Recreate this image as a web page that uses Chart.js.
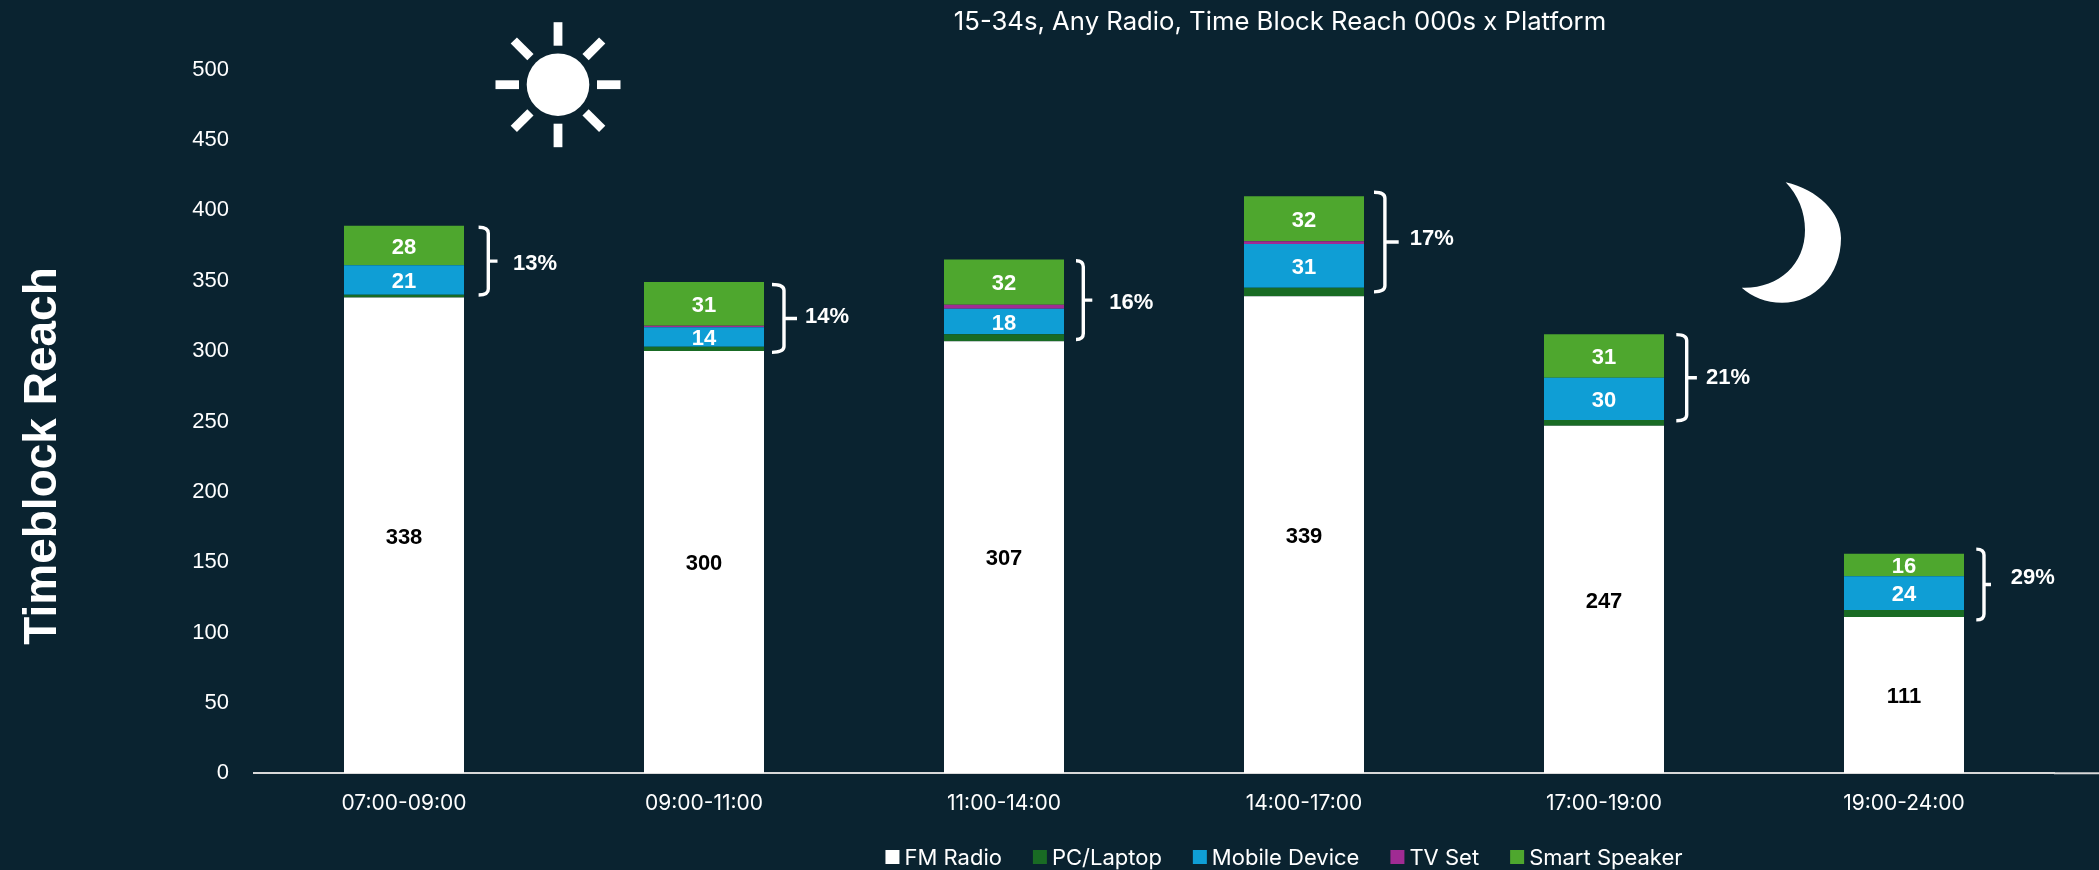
<!DOCTYPE html>
<html>
<head>
<meta charset="utf-8">
<title>Time Block Reach</title>
<script src="https://cdn.jsdelivr.net/npm/chart.js@4/dist/chart.umd.min.js"></script>
<style>
  html, body { margin: 0; padding: 0; background: #0a2330; }
  canvas { display: block; }
</style>
</head>
<body>
<canvas id="reach-chart" width="2099" height="870"></canvas>
<script>
const categories = ['07:00-09:00', '09:00-11:00', '11:00-14:00', '14:00-17:00', '17:00-19:00', '19:00-24:00'];
const fmRadio = [338, 300, 307, 339, 247, 111];
const pcLaptop = [2, 3, 5, 6, 4, 5];
const mobileDevice = [21, 14, 18, 31, 30, 24];
const tvSet = [0, 1, 3, 2, 0, 0];
const smartSpeaker = [28, 31, 32, 32, 31, 16];
const digitalShare = ['13%', '14%', '16%', '17%', '21%', '29%'];
const bracketTop = [388, 347.3, 364.2, 412.9, 311.7, 159.3];
const bracketBottom = [339.8, 299.1, 308.2, 342.1, 250.5, 109];

const textColor = '#ffffff';
const bodyFont = '"Liberation Sans", Arial, sans-serif';
const wideFont = 'Inter, "Liberation Sans", sans-serif';
const labelledSeries = ['FM Radio', 'Mobile Device', 'Smart Speaker'];

const bracketStart = [14.6, 8, 12, 10, 12.3, 12.3];
const bracketSpine = [26, 21.7, 21, 22.6, 24.4, 21.7];
const bracketTip = [33.5, 33, 28.3, 34.7, 32.9, 27];
const shareLeft = [49, 41, 45.3, 45.8, 42, 46.7];
const shareNudge = [3, -1, 3, -3, 0, -7];

const drawSun = (ctx, cx, cy) => {
  ctx.save();
  ctx.fillStyle = textColor;
  ctx.beginPath();
  ctx.arc(cx, cy, 31.3, 0, Math.PI * 2);
  ctx.fill();
  for (let i = 0; i < 8; i++) {
    ctx.save();
    ctx.translate(cx, cy);
    ctx.rotate((i * Math.PI) / 4);
    ctx.fillRect(39, -4.4, 23.5, 8.8);
    ctx.restore();
  }
  ctx.restore();
};

const drawMoon = (ctx) => {
  ctx.save();
  ctx.fillStyle = textColor;
  ctx.beginPath();
  ctx.moveTo(1785.7, 182.3);
  ctx.bezierCurveTo(1818, 190, 1841, 212, 1841, 238);
  ctx.bezierCurveTo(1841, 275, 1815, 302.7, 1782, 302.7);
  ctx.bezierCurveTo(1766, 302.7, 1752, 297, 1741.7, 287.7);
  ctx.bezierCurveTo(1778, 289, 1805, 265, 1805, 230);
  ctx.bezierCurveTo(1805, 212, 1798, 195, 1785.7, 182.3);
  ctx.fill();
  ctx.restore();
};

const drawLegend = (chart) => {
  const ctx = chart.ctx;
  const gap = 31;
  ctx.save();
  ctx.font = `22px ${wideFont}`;
  ctx.textBaseline = 'middle';
  ctx.textAlign = 'left';
  const items = chart.data.datasets.map((ds) => ({
    label: ds.label,
    color: ds.backgroundColor,
    width: 19 + ctx.measureText(ds.label).width,
  }));
  const total = items.reduce((sum, item) => sum + item.width, 0) + gap * (items.length - 1);
  let x = 1284 - total / 2;
  items.forEach((item) => {
    ctx.fillStyle = item.color;
    ctx.fillRect(x, 850, 14, 14);
    ctx.fillStyle = textColor;
    ctx.fillText(item.label, x + 19, 858);
    x += item.width + gap;
  });
  ctx.restore();
};

const overlayPlugin = {
  id: 'overlay',
  afterDatasetsDraw(chart) {
    const ctx = chart.ctx;
    const yScale = chart.scales.y;

    // axis line runs past the last category to the page edge
    ctx.save();
    ctx.strokeStyle = '#d9d9d9';
    ctx.lineWidth = 2;
    ctx.beginPath();
    ctx.moveTo(chart.chartArea.right, chart.chartArea.bottom);
    ctx.lineTo(chart.width, chart.chartArea.bottom);
    ctx.stroke();
    ctx.restore();

    // value labels inside the segments
    ctx.save();
    ctx.font = `bold 22px ${bodyFont}`;
    ctx.textAlign = 'center';
    ctx.textBaseline = 'middle';
    chart.data.datasets.forEach((ds, i) => {
      if (!labelledSeries.includes(ds.label)) return;
      ctx.fillStyle = ds.label === 'FM Radio' ? '#000000' : textColor;
      chart.getDatasetMeta(i).data.forEach((bar, j) => {
        const center = bar.getCenterPoint();
        ctx.fillText(ds.data[j], center.x, center.y + 2);
      });
    });
    ctx.restore();

    // brackets and digital share
    const bars = chart.getDatasetMeta(0).data;
    ctx.save();
    ctx.strokeStyle = textColor;
    ctx.lineWidth = 3.4;
    ctx.fillStyle = textColor;
    ctx.font = `bold 22px ${bodyFont}`;
    ctx.textAlign = 'left';
    ctx.textBaseline = 'middle';
    bars.forEach((bar, i) => {
      const right = bar.x + bar.width / 2;
      const top = yScale.getPixelForValue(bracketTop[i]);
      const bottom = yScale.getPixelForValue(bracketBottom[i]);
      const mid = (top + bottom) / 2;
      const x0 = right + bracketStart[i];
      const spine = right + bracketSpine[i] - 1.7;
      ctx.beginPath();
      ctx.moveTo(x0, top);
      ctx.quadraticCurveTo(spine, top, spine, top + 6);
      ctx.lineTo(spine, bottom - 6);
      ctx.quadraticCurveTo(spine, bottom, x0, bottom);
      ctx.moveTo(spine, mid);
      ctx.lineTo(right + bracketTip[i], mid);
      ctx.stroke();
      ctx.fillText(digitalShare[i], right + shareLeft[i], mid + shareNudge[i]);
    });
    ctx.restore();

    drawSun(ctx, 558, 84.7);
    drawMoon(ctx);

    // title and axis title sit off-centre in the original
    ctx.save();
    ctx.fillStyle = textColor;
    ctx.textAlign = 'center';
    ctx.textBaseline = 'middle';
    ctx.font = `25.7px ${wideFont}`;
    ctx.fillText('15-34s, Any Radio, Time Block Reach 000s x Platform', 1280, 22);
    ctx.translate(43, 456);
    ctx.rotate(-Math.PI / 2);
    ctx.font = `bold 46px ${bodyFont}`;
    ctx.fillText('Timeblock Reach', 0, 0);
    ctx.restore();

    drawLegend(chart);
  },
};

new Chart(document.getElementById('reach-chart'), {
  type: 'bar',
  data: {
    labels: categories,
    datasets: [
      { label: 'FM Radio', data: fmRadio, backgroundColor: '#ffffff' },
      { label: 'PC/Laptop', data: pcLaptop, backgroundColor: '#196b24' },
      { label: 'Mobile Device', data: mobileDevice, backgroundColor: '#0f9ed5' },
      { label: 'TV Set', data: tvSet, backgroundColor: '#a02b93' },
      { label: 'Smart Speaker', data: smartSpeaker, backgroundColor: '#4ea72e' },
    ],
  },
  options: {
    responsive: false,
    animation: false,
    barPercentage: 0.4,
    categoryPercentage: 1,
    layout: { padding: { top: 69.6, right: 45, bottom: 0, left: 0 } },
    plugins: {
      legend: { display: false },
      title: { display: false },
      tooltip: { enabled: false },
    },
    scales: {
      x: {
        stacked: true,
        grid: { display: false },
        border: { display: true, color: '#d9d9d9', width: 2 },
        ticks: {
          color: textColor,
          padding: 10,
          maxRotation: 0,
          font: { family: wideFont, size: 21 },
        },
        afterFit(scale) {
          scale.height = 96.7;
        },
      },
      y: {
        stacked: true,
        min: 0,
        max: 500,
        grid: { display: false },
        border: { display: false },
        ticks: {
          stepSize: 50,
          color: textColor,
          padding: 17,
          font: { family: bodyFont, size: 22 },
        },
        afterFit(scale) {
          scale.width = 254;
        },
      },
    },
  },
  plugins: [overlayPlugin],
});
</script>
</body>
</html>
